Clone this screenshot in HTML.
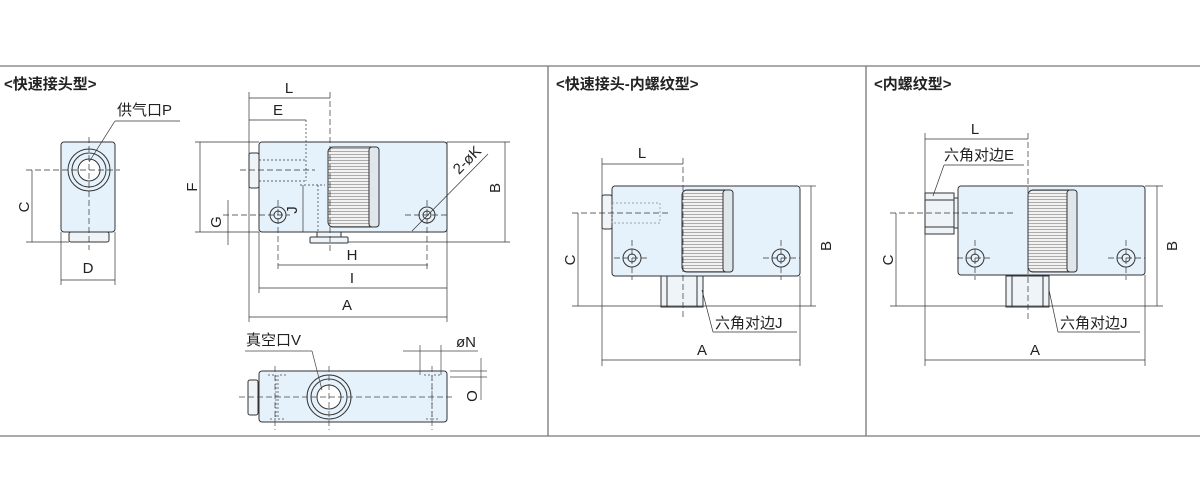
<!DOCTYPE html>
<html><head><meta charset="utf-8"><style>
html,body{margin:0;padding:0;background:#fff;width:1200px;height:500px;overflow:hidden}
svg{display:block}
text{font-family:"Liberation Sans","Noto Sans CJK SC",sans-serif;fill:#222}
.t{font-size:15px;font-weight:bold}
.l{font-size:15px}
</style></head><body>
<svg width="1200" height="500" viewBox="0 0 1200 500" xmlns="http://www.w3.org/2000/svg">
<defs>
<pattern id="st" width="4" height="3" patternUnits="userSpaceOnUse"><rect width="4" height="3" fill="#f2f2f2"/><line x1="0" y1="1.5" x2="4" y2="1.5" stroke="#999" stroke-width="0.8"/></pattern>
</defs>
<g stroke="#777" stroke-width="1.3" fill="none">
<line x1="0" y1="66" x2="1200" y2="66"/>
<line x1="0" y1="436" x2="1200" y2="436"/>
<line x1="548" y1="66" x2="548" y2="436"/>
<line x1="866" y1="66" x2="866" y2="436"/>
</g>
<text class="t" x="4" y="89">&lt;快速接头型&gt;</text>
<text class="t" x="556" y="89">&lt;快速接头-内螺纹型&gt;</text>
<text class="t" x="874" y="89">&lt;内螺纹型&gt;</text>

<!-- Panel 1 side view -->
<g stroke="#333" stroke-width="1" fill="#e6f2fb">
<rect x="61" y="142" width="54" height="90" rx="3"/>
<rect x="69" y="232" width="40" height="10" rx="2" fill="#eef4f8"/>
<circle cx="89" cy="170" r="21"/><circle cx="89" cy="170" r="17"/><circle cx="89" cy="170" r="11" fill="#fff"/>
</g>
<g stroke="#333" stroke-width="0.7" fill="none">
<line x1="89" y1="137" x2="89" y2="250" stroke-dasharray="6,3"/>
<line x1="26" y1="170" x2="120" y2="170" stroke-dasharray="6,3"/>
<line x1="26" y1="242" x2="69" y2="242"/>
<line x1="32" y1="170" x2="32" y2="242"/>
<line x1="61" y1="232" x2="61" y2="285"/><line x1="115" y1="232" x2="115" y2="285"/>
<line x1="61" y1="280" x2="115" y2="280"/>
<line x1="115" y1="121" x2="180" y2="121"/><line x1="115" y1="121" x2="89" y2="162"/>
</g>
<text class="l" x="117" y="115">供气口P</text>
<text class="l" x="24" y="207" transform="rotate(-90 24 207)" text-anchor="middle" dy="5">C</text>
<text class="l" x="88" y="273" text-anchor="middle">D</text>

<!-- Panel 1 front view -->
<g stroke="#333" stroke-width="1" fill="#e6f2fb">
<rect x="259" y="142" width="188" height="90" rx="3"/>
<rect x="249" y="153" width="10" height="35" rx="2" fill="#eef4f8"/>
<rect x="310" y="237" width="38" height="6" rx="1" fill="#eef4f8"/>
<rect x="317" y="232" width="24" height="5" fill="#eef4f8"/>
<rect x="328" y="147" width="51" height="80" rx="5" fill="url(#st)"/>
<rect x="369" y="147" width="10" height="80" rx="3" fill="#dfe6ec"/>
<circle cx="278" cy="215" r="8"/><circle cx="278" cy="215" r="4"/>
<circle cx="427" cy="215" r="8"/><circle cx="427" cy="215" r="4"/>
</g>
<g stroke="#333" stroke-width="0.7" fill="none">
<line x1="259" y1="160" x2="306" y2="160" stroke-dasharray="2,2"/><line x1="259" y1="181" x2="306" y2="181" stroke-dasharray="2,2"/>
<line x1="306" y1="120" x2="306" y2="181" stroke-dasharray="2,2"/>
<line x1="240" y1="170" x2="315" y2="170" stroke-dasharray="6,3"/>
<line x1="330" y1="92" x2="330" y2="252" stroke-dasharray="6,3"/>
<line x1="249" y1="92" x2="249" y2="322"/>
<line x1="249" y1="98" x2="330" y2="98"/>
<line x1="249" y1="120" x2="306" y2="120"/>
<line x1="195" y1="142" x2="259" y2="142"/><line x1="195" y1="232" x2="259" y2="232"/>
<line x1="200" y1="142" x2="200" y2="232"/>
<line x1="223" y1="215" x2="290" y2="215" stroke-dasharray="6,3"/>
<line x1="228" y1="200" x2="228" y2="245"/>
<line x1="300" y1="185" x2="325" y2="185" stroke-dasharray="2,2"/>
<line x1="303" y1="185" x2="303" y2="232"/>
<line x1="318" y1="185" x2="318" y2="232" stroke-dasharray="2,2"/>
<line x1="278" y1="200" x2="278" y2="270" stroke-dasharray="6,3"/>
<line x1="427" y1="200" x2="427" y2="270" stroke-dasharray="6,3"/>
<line x1="405" y1="215" x2="450" y2="215" stroke-dasharray="6,3"/>
<line x1="278" y1="265" x2="428" y2="265"/>
<line x1="259" y1="232" x2="259" y2="293"/><line x1="447" y1="142" x2="447" y2="322"/>
<line x1="259" y1="288" x2="447" y2="288"/>
<line x1="249" y1="317" x2="447" y2="317"/>
<line x1="447" y1="142" x2="510" y2="142"/><line x1="348" y1="242" x2="510" y2="242"/>
<line x1="505" y1="142" x2="505" y2="242"/>
<line x1="412" y1="231" x2="488" y2="154"/>
</g>
<text class="l" x="289" y="93" text-anchor="middle">L</text>
<text class="l" x="278" y="115" text-anchor="middle">E</text>
<text class="l" x="352" y="260" text-anchor="middle">H</text>
<text class="l" x="352" y="283" text-anchor="middle">I</text>
<text class="l" x="347" y="310" text-anchor="middle">A</text>
<text class="l" x="192" y="187" transform="rotate(-90 192 187)" text-anchor="middle" dy="5">F</text>
<text class="l" x="216" y="222" transform="rotate(-90 216 222)" text-anchor="middle" dy="5">G</text>
<text class="l" x="292" y="210" transform="rotate(-90 292 210)" text-anchor="middle" dy="5">J</text>
<text class="l" x="495" y="188" transform="rotate(-90 495 188)" text-anchor="middle" dy="5">B</text>
<text class="l" x="467" y="160" transform="rotate(-45 467 160)" text-anchor="middle" dy="5">2-øK</text>

<!-- Bottom view -->
<g stroke="#333" stroke-width="1" fill="#e6f2fb">
<rect x="259" y="371" width="188" height="51" rx="3"/>
<rect x="248" y="380" width="10" height="35" rx="2" fill="#eef4f8"/>
<circle cx="329" cy="397" r="22"/><circle cx="329" cy="397" r="18"/><circle cx="329" cy="397" r="12" fill="#fff"/>
</g>
<g stroke="#444" stroke-width="0.7" fill="none">
<path d="M268 375h8v44h-8 M286 375h-8v44h8 M424 375h8v44h-8 M440 375h-8v44h8" stroke-dasharray="2,2"/>
<line x1="239" y1="397" x2="455" y2="397" stroke-dasharray="6,3"/>
<line x1="275" y1="366" x2="275" y2="430" stroke-dasharray="6,3"/>
<line x1="329" y1="366" x2="329" y2="430" stroke-dasharray="6,3"/>
<line x1="432" y1="366" x2="432" y2="430" stroke-dasharray="6,3"/>
<line x1="420" y1="345" x2="420" y2="375"/><line x1="441" y1="345" x2="441" y2="375"/>
<line x1="403" y1="351" x2="478" y2="351"/>
<line x1="450" y1="371" x2="487" y2="371"/><line x1="450" y1="377" x2="487" y2="377"/>
<line x1="481" y1="358" x2="481" y2="400"/>
<line x1="245" y1="351" x2="312" y2="351"/><line x1="312" y1="351" x2="322" y2="390"/>
</g>
<text class="l" x="246" y="345">真空口V</text>
<text class="l" x="456" y="347">øN</text>
<text class="l" x="472" y="396" transform="rotate(-90 472 396)" text-anchor="middle" dy="5">O</text>

<!-- Panel 2 -->
<g stroke="#333" stroke-width="1" fill="#e6f2fb">
<rect x="612" y="186" width="188" height="90" rx="3"/>
<rect x="602" y="195" width="10" height="34" rx="2" fill="#eef4f8"/>
<rect x="612" y="203" width="48" height="20" fill="none" stroke="#888" stroke-dasharray="2,2" stroke-width="0.7"/>
<rect x="682" y="190" width="51" height="82" rx="5" fill="url(#st)"/>
<rect x="723" y="190" width="10" height="82" rx="3" fill="#dfe6ec"/>
<rect x="661" y="276" width="42" height="31" fill="#eef4f8"/>
<line x1="667" y1="276" x2="667" y2="307"/><line x1="697" y1="276" x2="697" y2="307"/>
<circle cx="632" cy="258" r="9"/><circle cx="632" cy="258" r="4"/>
<circle cx="781" cy="258" r="9"/><circle cx="781" cy="258" r="4"/>
</g>
<g stroke="#333" stroke-width="0.7" fill="none">
<line x1="572" y1="213" x2="670" y2="213" stroke-dasharray="6,3"/>
<line x1="683" y1="158" x2="683" y2="320" stroke-dasharray="6,3"/>
<line x1="602" y1="158" x2="602" y2="366"/><line x1="800" y1="276" x2="800" y2="366"/>
<line x1="602" y1="164" x2="683" y2="164"/>
<line x1="578" y1="213" x2="578" y2="306"/>
<line x1="572" y1="306" x2="816" y2="306"/>
<line x1="800" y1="186" x2="816" y2="186"/>
<line x1="811" y1="186" x2="811" y2="306"/>
<line x1="602" y1="360" x2="800" y2="360"/>
<line x1="614" y1="258" x2="650" y2="258" stroke-dasharray="6,3"/><line x1="763" y1="258" x2="800" y2="258" stroke-dasharray="6,3"/>
<line x1="632" y1="240" x2="632" y2="280" stroke-dasharray="6,3"/><line x1="781" y1="240" x2="781" y2="280" stroke-dasharray="6,3"/>
<line x1="713" y1="332" x2="797" y2="332"/><line x1="713" y1="332" x2="702" y2="290"/>
</g>
<text class="l" x="642" y="158" text-anchor="middle">L</text>
<text class="l" x="702" y="355" text-anchor="middle">A</text>
<text class="l" x="570" y="260" transform="rotate(-90 570 260)" text-anchor="middle" dy="5">C</text>
<text class="l" x="826" y="246" transform="rotate(-90 826 246)" text-anchor="middle" dy="5">B</text>
<text class="l" x="715" y="328">六角对边J</text>

<!-- Panel 3 -->
<g stroke="#333" stroke-width="1" fill="#e6f2fb">
<rect x="958" y="186" width="187" height="89" rx="3"/>
<rect x="925" y="193" width="29" height="41" fill="#eef4f8"/>
<line x1="925" y1="200" x2="954" y2="200"/><line x1="925" y1="227" x2="954" y2="227"/>
<rect x="954" y="198" width="4" height="30" fill="#eef4f8"/>
<rect x="1028" y="190" width="49" height="82" rx="5" fill="url(#st)"/>
<rect x="1067" y="190" width="10" height="82" rx="3" fill="#dfe6ec"/>
<rect x="1006" y="276" width="43" height="31" fill="#eef4f8"/>
<line x1="1012" y1="276" x2="1012" y2="307"/><line x1="1043" y1="276" x2="1043" y2="307"/>
<circle cx="975" cy="258" r="9"/><circle cx="975" cy="258" r="4"/>
<circle cx="1126" cy="258" r="9"/><circle cx="1126" cy="258" r="4"/>
</g>
<g stroke="#333" stroke-width="0.7" fill="none">
<line x1="890" y1="213" x2="1015" y2="213" stroke-dasharray="6,3"/>
<line x1="1028" y1="133" x2="1028" y2="320" stroke-dasharray="6,3"/>
<line x1="925" y1="133" x2="925" y2="366"/><line x1="1145" y1="275" x2="1145" y2="366"/>
<line x1="925" y1="139" x2="1028" y2="139"/>
<line x1="896" y1="213" x2="896" y2="306"/>
<line x1="890" y1="306" x2="1163" y2="306"/>
<line x1="1145" y1="186" x2="1163" y2="186"/>
<line x1="1157" y1="186" x2="1157" y2="306"/>
<line x1="925" y1="360" x2="1145" y2="360"/>
<line x1="957" y1="258" x2="993" y2="258" stroke-dasharray="6,3"/><line x1="1108" y1="258" x2="1145" y2="258" stroke-dasharray="6,3"/>
<line x1="975" y1="240" x2="975" y2="280" stroke-dasharray="6,3"/><line x1="1126" y1="240" x2="1126" y2="280" stroke-dasharray="6,3"/>
<line x1="944" y1="165" x2="1024" y2="165"/><line x1="944" y1="165" x2="933" y2="196"/>
<line x1="1058" y1="332" x2="1140" y2="332"/><line x1="1058" y1="332" x2="1049" y2="290"/>
</g>
<text class="l" x="975" y="134" text-anchor="middle">L</text>
<text class="l" x="944" y="160">六角对边E</text>
<text class="l" x="1035" y="355" text-anchor="middle">A</text>
<text class="l" x="888" y="260" transform="rotate(-90 888 260)" text-anchor="middle" dy="5">C</text>
<text class="l" x="1172" y="246" transform="rotate(-90 1172 246)" text-anchor="middle" dy="5">B</text>
<text class="l" x="1060" y="328">六角对边J</text>
</svg>
</body></html>
